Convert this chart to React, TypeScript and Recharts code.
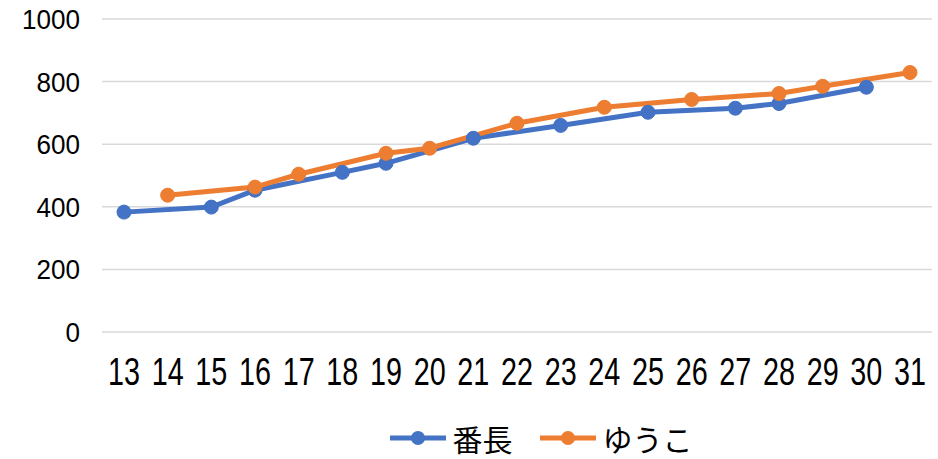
import React from "react"
import { LineChart, Line, XAxis, YAxis, CartesianGrid, Legend } from "recharts"

const days = ["13", "14", "15", "16", "17", "18", "19", "20", "21", "22", "23", "24", "25", "26", "27", "28", "29", "30", "31"]
const banchou = [383, null, 399, 453, null, 510, 539, null, 619, null, 660, null, 702, null, 715, 730, null, 782, null]
const yuuko = [null, 437, null, 463, 504, null, 571, 587, null, 667, null, 718, null, 743, null, 762, 785, null, 829]
const yTicks = [0, 200, 400, 600, 800, 1000]

const BLUE = "#4472C4"
const ORANGE = "#ED7D31"
const NUM_FONT = '"Liberation Sans", Arial, sans-serif'
const JP_FONT = '"Noto Sans CJK JP", sans-serif'

const series = [
  { key: "banchou", name: "番長", color: BLUE },
  { key: "yuuko", name: "ゆうこ", color: ORANGE },
]

const data = days.map((d, i) => ({ day: d, banchou: banchou[i], yuuko: yuuko[i] }))

// narrow digits like the original's font
function XTick({ x, y, payload }: any) {
  const s = String(payload.value)
  return (
    <text x={x} y={y} dy="0.71em" textAnchor="middle" fontFamily={NUM_FONT} fontSize={39} fill="#000"
      textLength={16 * s.length} lengthAdjust="spacingAndGlyphs">
      {s}
    </text>
  )
}

function YTick({ x, y, payload }: any) {
  const s = String(payload.value)
  return (
    <text x={x} y={y} dy="0.36em" textAnchor="end" fontFamily={NUM_FONT} fontSize={28} fill="#000"
      textLength={14.5 * s.length} lengthAdjust="spacingAndGlyphs">
      {s}
    </text>
  )
}

function LegendBox() {
  return (
    <div style={{ display: "flex", justifyContent: "center", alignItems: "center", height: 42, paddingLeft: 150, fontFamily: JP_FONT, fontSize: 30, color: "#000" }}>
      {series.map((s, i) => (
        <div key={s.key} style={{ display: "flex", alignItems: "center", marginLeft: i ? 27 : 0 }}>
          <svg width={56} height={16} style={{ marginRight: 7 }}>
            <line x1={0} y1={8} x2={56} y2={8} stroke={s.color} strokeWidth={5} />
            <circle cx={28} cy={8} r={7} fill={s.color} />
          </svg>
          <span style={{ lineHeight: "42px" }}>{s.name}</span>
        </div>
      ))}
    </div>
  )
}

export default function App() {
  return (
    <div style={{ position: "absolute", left: 0, top: 0, width: 938, height: 459, background: "#fff" }}>
      <LineChart width={938} height={459} data={data} margin={{ top: 19, right: 6, left: 0, bottom: 0 }}>
        <CartesianGrid stroke="#D9D9D9" strokeWidth={1.5} vertical={false} />
        <XAxis
          dataKey="day"
          axisLine={false}
          tickLine={false}
          tickSize={0}
          tickMargin={25}
          height={85}
          interval={0}
          padding={{ left: 22, right: 22 }}
          tick={<XTick />}
        />
        <YAxis
          domain={[0, 1000]}
          ticks={yTicks}
          axisLine={false}
          tickLine={false}
          tickSize={0}
          tickMargin={22}
          width={102}
          tick={<YTick />}
        />
        <Legend verticalAlign="bottom" height={42} content={() => <LegendBox />} />
        {series.map((s) => (
          <Line
            key={s.key}
            dataKey={s.key}
            name={s.name}
            stroke={s.color}
            strokeWidth={5}
            connectNulls
            isAnimationActive={false}
            dot={{ r: 7, fill: s.color, stroke: s.color, strokeWidth: 1 }}
            activeDot={false}
          />
        ))}
      </LineChart>
    </div>
  )
}
